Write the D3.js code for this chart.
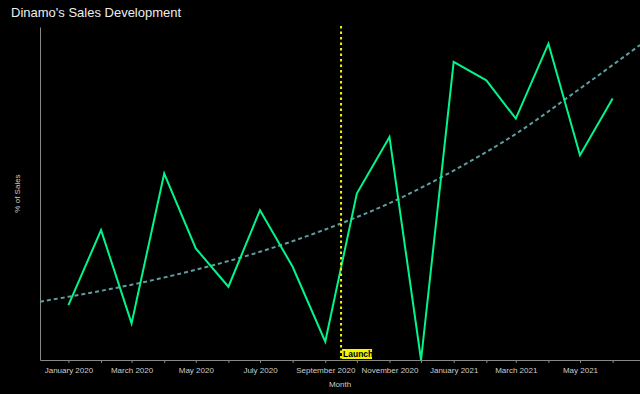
<!DOCTYPE html>
<html>
<head>
<meta charset="utf-8">
<script src="https://cdn.jsdelivr.net/npm/d3@7"></script>
<style>
  html, body { margin: 0; padding: 0; background: #000; }
  svg { display: block; font-family: "Liberation Sans", Arial, sans-serif; }
</style>
</head>
<body>
<div id="chart"></div>
<script>
// monthly sales share
var months = ["2020-01","2020-02","2020-03","2020-04","2020-05","2020-06","2020-07","2020-08","2020-09",
              "2020-10","2020-11","2020-12","2021-01","2021-02","2021-03","2021-04","2021-05","2021-06"];
var sales = [16.5, 39, 11, 56, 33.5, 22, 45, 28, 5.5, 50, 67, 0, 89.5, 84, 72.5, 95, 61.5, 78.5];

// dashed trend, sampled at the chart ends and at each month
var trendDates = ["2019-12-05","2020-01-01","2020-03-01","2020-05-01","2020-07-01","2020-09-01",
                  "2020-11-01","2021-01-01","2021-03-01","2021-05-01","2021-06-27"];
var trendValues = [17.5, 19.0, 22.6, 27.1, 32.5, 39.2, 47.1, 56.9, 67.9, 81.5, 94.6];

var launchDate = "2020-09-16";
var xDomain = ["2019-12-05", "2021-06-27"];

var width = 640, height = 394;
var margin = {top: 27, right: 0, bottom: 34, left: 40};
var parse = d3.timeParse("%Y-%m-%d");
var parseMonth = d3.timeParse("%Y-%m");

var svg = d3.select("#chart").append("svg")
  .attr("width", width).attr("height", height);

svg.append("rect").attr("width", width).attr("height", height).attr("fill", "#000");

var x = d3.scaleTime()
  .domain(xDomain.map(parse))
  .range([margin.left, width - margin.right]);

var y = d3.scaleLinear()
  .domain([0, 100])
  .range([height - margin.bottom, margin.top]);

var data = months.map(function(m, i){ return {date: parseMonth(m), value: sales[i]}; });
var trend = trendDates.map(function(d, i){ return {date: parse(d), value: trendValues[i]}; });

// title
svg.append("text")
  .attr("x", 11).attr("y", 17)
  .attr("fill", "#eee")
  .attr("font-size", "13px")
  .text("Dinamo's Sales Development");

// x axis
var xAxis = d3.axisBottom(x)
  .ticks(d3.timeMonth.every(1))
  .tickSize(3)
  .tickSizeOuter(0)
  .tickFormat(function(d){ return d.getMonth() % 2 == 0 ? d3.timeFormat("%B %Y")(d) : ""; });

var gx = svg.append("g")
  .attr("transform", "translate(0," + y(0) + ")")
  .call(xAxis);
gx.select(".domain").attr("stroke", "#888");
gx.selectAll(".tick line").attr("stroke", "#888");
gx.selectAll(".tick text").attr("fill", "#ccc").attr("font-size", "8px").attr("dy", "0.9em")
  .attr("font-family", "Liberation Sans, Arial, sans-serif");

// y axis (line only)
var gy = svg.append("g")
  .attr("transform", "translate(" + x.range()[0] + ",0)")
  .call(d3.axisLeft(y).ticks(0).tickSizeOuter(0));
gy.select(".domain").attr("stroke", "#888");

// axis titles
svg.append("text")
  .attr("x", (x.range()[0] + x.range()[1]) / 2).attr("y", 387)
  .attr("text-anchor", "middle")
  .attr("fill", "#ccc").attr("font-size", "8px")
  .text("Month");

svg.append("text")
  .attr("transform", "translate(20," + ((y.range()[0] + y.range()[1]) / 2) + ") rotate(-90)")
  .attr("text-anchor", "middle")
  .attr("fill", "#ccc").attr("font-size", "8px")
  .text("% of Sales");

// trend
var trendLine = d3.line()
  .x(function(d){ return x(d.date); })
  .y(function(d){ return y(d.value); })
  .curve(d3.curveMonotoneX);

svg.append("path")
  .datum(trend)
  .attr("d", trendLine)
  .attr("fill", "none")
  .attr("stroke", "#5f9ea0")
  .attr("stroke-width", 2)
  .attr("stroke-dasharray", "4,3");

// sales line
var line = d3.line()
  .x(function(d){ return x(d.date); })
  .y(function(d){ return y(d.value); });

svg.append("path")
  .datum(data)
  .attr("d", line)
  .attr("fill", "none")
  .attr("stroke", "#00f58a")
  .attr("stroke-width", 2)
  .attr("stroke-linejoin", "miter");

// launch marker
var lx = x(parse(launchDate));
svg.append("line")
  .attr("x1", lx).attr("x2", lx)
  .attr("y1", y(100) - 1).attr("y2", y(0))
  .attr("stroke", "#f5f500")
  .attr("stroke-width", 2)
  .attr("stroke-dasharray", "2.5,3");

svg.append("rect")
  .attr("x", lx + 1).attr("y", y(0) - 11)
  .attr("width", 30).attr("height", 10)
  .attr("fill", "#f5f500");

svg.append("text")
  .attr("x", lx + 2).attr("y", y(0) - 3)
  .attr("fill", "#000")
  .attr("font-size", "8.5px")
  .attr("font-weight", "bold")
  .text("Launch");
</script>
</body>
</html>
